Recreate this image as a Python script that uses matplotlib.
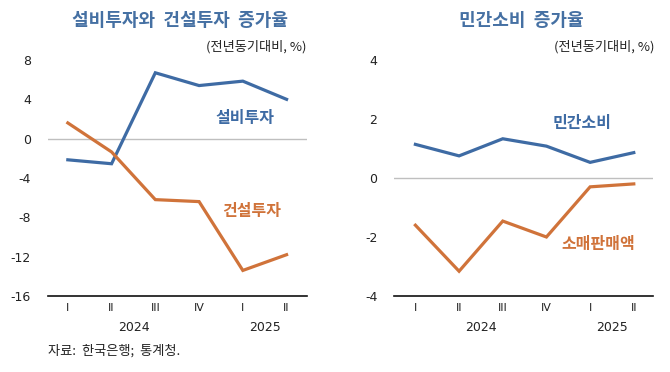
import matplotlib
matplotlib.use("Agg")
import matplotlib.pyplot as plt
import matplotlib.transforms as mtransforms

plt.rcParams['font.family'] = ['Noto Sans CJK KR', 'DejaVu Sans']

quarters = ["I", "II", "III", "IV", "I", "II"]
years = ["2024", "2025"]

equip_inv = [-2.15, -2.55, 6.7, 5.4, 5.85, 4.0]
constr_inv = [1.6, -1.35, -6.2, -6.4, -13.4, -11.8]

private_cons = [1.14, 0.75, 1.33, 1.08, 0.53, 0.86]
retail_sales = [-1.6, -3.16, -1.46, -2.0, -0.3, -0.2]

BLUE = "#3e6ba4"
ORANGE = "#d0733a"
TITLE_BLUE = "#4570a3"
TXT = "#222222"
NUM_FONT = ['DejaVu Sans']

W, H = 670, 372
fig = plt.figure(figsize=(W / 100, H / 100), dpi=100)

def px_axes(x0, x1, ytop, ybot):
    return [x0 / W, 1 - ybot / H, (x1 - x0) / W, (ybot - ytop) / H]

ax1 = fig.add_axes(px_axes(47.7, 306.7, 60, 296))
ax2 = fig.add_axes(px_axes(394, 653, 60, 296))

def style(ax, ylim, yticks, xlim):
    ax.set_ylim(*ylim)
    ax.set_xlim(*xlim)
    ax.set_yticks(yticks)
    ax.set_yticklabels([str(t) for t in yticks], fontsize=9, color=TXT, family=NUM_FONT)
    ax.set_xticks(range(len(quarters)))
    ax.set_xticklabels(quarters, fontsize=8, color=TXT, family=NUM_FONT)
    ax.tick_params(axis='both', length=0)
    ax.tick_params(axis='y', pad=12)
    ax.tick_params(axis='x', pad=5)
    for s in ["top", "right", "left"]:
        ax.spines[s].set_visible(False)
    ax.spines["bottom"].set_color("#111111")
    ax.spines["bottom"].set_linewidth(1.2)
    ax.axhline(0, color="#bfbfbf", lw=1.0, zorder=1)
    ax.set_facecolor("none")
    tr = mtransforms.blended_transform_factory(ax.transData, ax.transAxes)
    off = (327.7 - 296) / (296 - 60)
    ax.text(1.5, -off, years[0], transform=tr, ha="center", va="center", fontsize=9,
            color=TXT, family=NUM_FONT)
    ax.text(4.5, -off, years[1], transform=tr, ha="center", va="center", fontsize=9,
            color=TXT, family=NUM_FONT)

x = list(range(len(quarters)))

style(ax1, (-16, 8), [8, 4, 0, -4, -8, -12, -16], (-0.46, 5.46))
ax1.plot(x, equip_inv, color=BLUE, lw=2.3, solid_joinstyle="miter", zorder=3)
ax1.plot(x, constr_inv, color=ORANGE, lw=2.3, solid_joinstyle="miter", zorder=3)
ax1.text(4.05, 2.1, "설비투자", color=BLUE, fontsize=11.5, fontweight="bold", ha="center", va="center")
ax1.text(4.2, -7.35, "건설투자", color=ORANGE, fontsize=11.5, fontweight="bold", ha="center", va="center")

style(ax2, (-4, 4), [4, 2, 0, -2, -4], (-0.49, 5.44))
ax2.plot(x, private_cons, color=BLUE, lw=2.3, solid_joinstyle="miter", zorder=3)
ax2.plot(x, retail_sales, color=ORANGE, lw=2.3, solid_joinstyle="miter", zorder=3)
ax2.text(3.81, 1.87, "민간소비", color=BLUE, fontsize=11.5, fontweight="bold", ha="center", va="center")
ax2.text(4.19, -2.23, "소매판매액", color=ORANGE, fontsize=11.5, fontweight="bold", ha="center", va="center")

fig.text(179.5 / W, 1 - 21 / H, "설비투자와  건설투자  증가율", color=TITLE_BLUE, fontsize=13,
         fontweight="bold", ha="center", va="center")
fig.text(521.5 / W, 1 - 21 / H, "민간소비  증가율", color=TITLE_BLUE, fontsize=13,
         fontweight="bold", ha="center", va="center")
fig.text(306 / W, 1 - 47 / H, "(전년동기대비, %)", color=TXT, fontsize=9.5, ha="right", va="center")
fig.text(655 / W, 1 - 47 / H, "(전년동기대비, %)", color=TXT, fontsize=9.5, ha="right", va="center")
fig.text(48 / W, 1 - 351 / H, "자료:  한국은행;  통계청.", color=TXT, fontsize=9.5, ha="left", va="center")

fig.savefig("out.png", dpi=100, facecolor="white")
